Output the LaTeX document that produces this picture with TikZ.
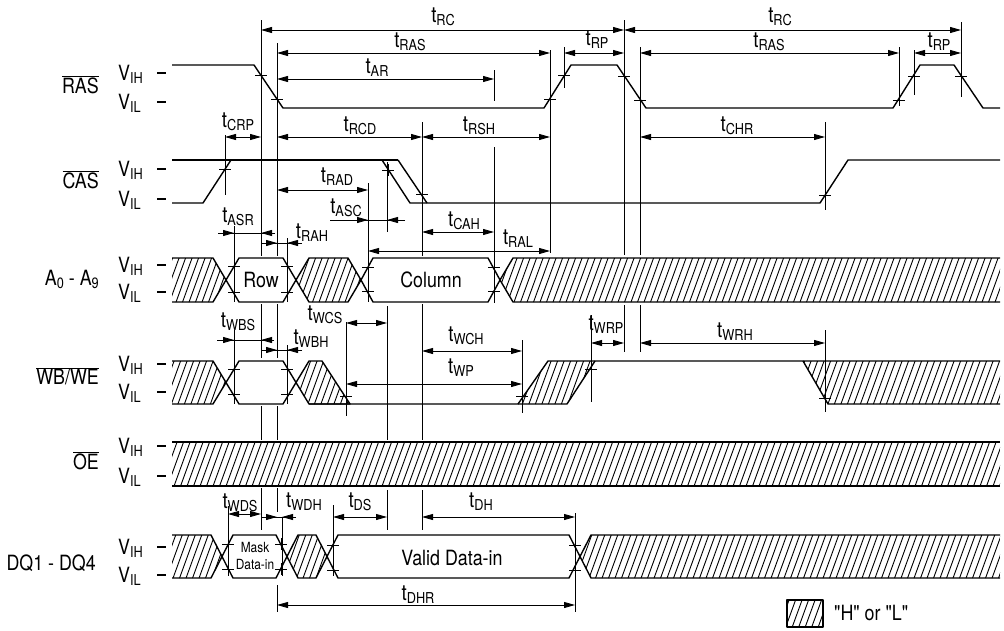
\documentclass[tikz,border=0pt]{standalone}
\usepackage{fontspec}
\setmainfont{TeX Gyre Heros}[FakeStretch=0.85]
\newfontfamily\qfont{TeX Gyre Heros}[FakeStretch=0.85]
\usetikzlibrary{arrows.meta}
\newcommand{\tlab}[1]{{\fontsize{22}{22}\selectfont t}\raisebox{-3pt}{\fontsize{15}{15}\selectfont #1}}
\newcommand{\vlab}[1]{{\fontsize{21}{21}\selectfont V}\raisebox{-3pt}{\fontsize{15}{15}\selectfont #1}}
\newcommand{\subd}[1]{\raisebox{-3pt}{\fontsize{15}{15}\selectfont #1}}
\newcommand{\mk}[2]{\draw[mkr] (#1,#2) ++(-6,0) -- ++(12,0) (#1,#2) ++(0,-6) -- ++(0,12);}
\begin{document}
\begin{tikzpicture}[x=1pt,y=-1pt,
  sig/.style={line width=1.4pt,line join=round},
  thinl/.style={line width=0.8pt},
  mkr/.style={line width=0.9pt},
  hl/.style={line width=0.9pt},
  dd/.style={thinl,{Triangle[length=11pt,width=6pt]}-{Triangle[length=11pt,width=6pt]}},
  tipr/.style={thinl,-{Triangle[length=11pt,width=6pt]}},
  lab/.style={inner sep=0pt},
  sname/.style={inner sep=0pt,anchor=east,font=\fontsize{21}{24}\selectfont},
  vl/.style={inner sep=0pt,anchor=west},
  btxt/.style={inner sep=0pt,font=\fontsize{21}{24}\selectfont}]
\useasboundingbox (0,0) rectangle (1004,630);

% ---------- hatching ----------
\begin{scope}
\clip (172,258) -- (213,258) -- (226,280) -- (213,302) -- (172,302) -- cycle
 (296,280) -- (309,258) -- (348,258) -- (361,280) -- (348,302) -- (309,302) -- cycle
 (500,280) -- (513,258) -- (1000,258) -- (1000,302) -- (513,302) -- cycle
 (172,361) -- (213,361) -- (226,382.5) -- (213,404) -- (172,404) -- cycle
 (296,382.5) -- (309,361) -- (322,361) -- (350,404) -- (309,404) -- cycle
 (518,404) -- (548,361) -- (595,361) -- (567,404) -- cycle
 (803,361) -- (1000,361) -- (1000,404) -- (828,404) -- cycle
 (172,442) rectangle (1000,486)
 (172,535) -- (211,535) -- (222,556.5) -- (211,578) -- (172,578) -- cycle
 (287,556.5) -- (298,535) -- (316,535) -- (327,556.5) -- (316,578) -- (298,578) -- cycle
 (580,556.5) -- (591,535) -- (1000,535) -- (1000,578) -- (591,578) -- cycle
 (787,600) rectangle (823,627);
\foreach \k in {0,...,175} \draw[hl] ({-90+6.5*\k},640) -- ++(233,-640);
\end{scope}

% ---------- signal names and levels ----------
\node[sname] (nras) at (99,85) {$\overline{\mbox{RAS}}$};
\node[sname] (ncas) at (99,180) {$\overline{\mbox{CAS}}$};
\node[sname] (nadr) at (99,279) {A\subd{0} - A\subd{9}};
\node[sname] (nwe) at (99,376) {$\overline{\mbox{WB/WE}}$};
\node[sname] (noe) at (99,461) {$\overline{\mbox{OE}}$};
\node[sname] (ndq) at (96,563) {DQ1 - DQ4};
\foreach \nm/\yh/\yl in {ras/73/102, cas/169/199, adr/265/292, we/364/392, oe/446/476, dq/547/575}{
  \node[vl] (\nm H) at (118,\yh+1) {\vlab{IH}};
  \node[vl] (\nm L) at (118,\yl+1) {\vlab{IL}};
  \draw[sig] (157,\yh) -- (166,\yh);
  \draw[sig] (157,\yl) -- (166,\yl);
}

% ---------- RAS ----------
\draw[sig] (172,65) -- (254,65) -- (283,108) -- (544,108) -- (571,65) -- (617,65) -- (646,108) -- (893,108) -- (920,65) -- (954,65) -- (983,108) -- (1000,108);
% ---------- CAS ----------
\draw[sig] (172,160) -- (398,160);
\draw[sig] (172,203) -- (203,203) -- (231,160);
\draw[sig] (382,160) -- (410,203) -- (820,203) -- (848,160) -- (1000,160);
\draw[sig] (398,160) -- (427,203);
% ---------- Address ----------
\draw[sig] (172,258) -- (213,258) -- (226,280) -- (213,302) -- (172,302);
\draw[sig] (226,280) -- (239,258) -- (283,258) -- (296,280) -- (283,302) -- (239,302) -- cycle;
\draw[sig] (296,280) -- (309,258) -- (348,258) -- (361,280) -- (348,302) -- (309,302) -- cycle;
\draw[sig] (361,280) -- (373,258) -- (488,258) -- (500,280) -- (488,302) -- (373,302) -- cycle;
\draw[sig] (1000,258) -- (513,258) -- (500,280) -- (513,302) -- (1000,302);
\node[btxt] (row) at (261,280) {Row};
\node[btxt] (col) at (431,280) {Column};
% ---------- WB/WE ----------
\draw[sig] (172,361) -- (213,361) -- (226,382.5) -- (213,404) -- (172,404);
\draw[sig] (226,382.5) -- (239,361) -- (283,361) -- (296,382.5) -- (283,404) -- (239,404) -- cycle;
\draw[sig] (296,382.5) -- (309,361) -- (322,361) -- (350,404) -- (309,404) -- cycle;
\draw[sig] (309,404) -- (518,404) -- (548,361) -- (1000,361);
\draw[sig] (518,404) -- (567,404) -- (595,361);
\draw[sig] (803,361) -- (828,404) -- (1000,404);
% ---------- OE ----------
\draw[sig] (172,442) -- (1000,442) (172,486) -- (1000,486);
% ---------- DQ ----------
\draw[sig] (172,535) -- (211,535) -- (222,556.5) -- (211,578) -- (172,578);
\draw[sig] (222,556.5) -- (233,535) -- (276,535) -- (287,556.5) -- (276,578) -- (233,578) -- cycle;
\draw[sig] (287,556.5) -- (298,535) -- (316,535) -- (327,556.5) -- (316,578) -- (298,578) -- cycle;
\draw[sig] (327,556.5) -- (338,535) -- (569,535) -- (580,556.5) -- (569,578) -- (338,578) -- cycle;
\draw[sig] (1000,535) -- (591,535) -- (580,556.5) -- (591,578) -- (1000,578);
\node[lab,font=\fontsize{14}{14}\selectfont] (mask) at (255,547) {Mask};
\node[lab,font=\fontsize{14}{14}\selectfont] (datain) at (255,564) {Data-in};
\node[btxt] (valid) at (452,558) {Valid Data-in};
% ---------- legend ----------
\draw[sig] (787,600) rectangle (823,627);
\node[btxt,anchor=west,font=\qfont\fontsize{21}{24}\selectfont] (leg) at (834,613) {"H" or "L"};

% ---------- reference lines ----------
\draw[thinl] (261,20)--(261,256) (261,304)--(261,358) (261,406)--(261,440) (261,488)--(261,530);
\draw[thinl] (277,43)--(277,256) (277,304)--(277,358) (277,406)--(277,440) (277,488)--(277,512) (277,585)--(277,612);
\draw[thinl] (225,135)--(225,195);
\draw[thinl] (234,226)--(234,302) (234,330)--(234,404);
\draw[thinl] (287,238)--(287,302) (287,345)--(287,404);
\draw[thinl] (368,183)--(368,302);
\draw[thinl] (387,162)--(387,232) (387,306)--(387,440) (387,490)--(387,530);
\draw[thinl] (422,122)--(422,256) (422,304)--(422,440) (422,490)--(422,530);
\draw[thinl] (494,70)--(494,101) (494,147)--(494,303);
\draw[thinl] (550,50)--(550,253);
\draw[thinl] (564,47)--(564,88);
\draw[thinl] (624,20)--(624,255) (624,305)--(624,352);
\draw[thinl] (640,47)--(640,255) (640,305)--(640,352);
\draw[thinl] (825,122)--(825,210) (825,330)--(825,412);
\draw[thinl] (899,47)--(899,105) (914,50)--(914,95) (961,22)--(961,97);
\draw[thinl] (346,322)--(346,416);
\draw[thinl] (522,340)--(522,413);
\draw[thinl] (591,315)--(591,402);
\draw[thinl] (228,506)--(228,576);
\draw[thinl] (282,517)--(282,576);
\draw[thinl] (333,505)--(333,576);
\draw[thinl] (575,513)--(575,612);

% ---------- markers ----------
\foreach \px/\py in {261/75,277/99,550/99,564/75,624/76,640/100,899/100,914/76,961/76,
  225/169,388/170,422/194,825/195,
  234/266,234/292,287/266,287/292,368/267,368/291,494/267,494/291,
  234/369,234/394,287/369,287/394,346/396,522/396,591/369,825/398,
  228/544,228/569,281/544,281/569,333/545,333/570,575/545,575/570}{\mk{\px}{\py}}

% ---------- dimensions (outward) ----------
\draw[dd] (261,30) -- (624,30);
\draw[dd] (624,30) -- (961,30);
\draw[dd] (277,53) -- (550,53);
\draw[dd] (564,53) -- (624,53);
\draw[dd] (640,53) -- (899,53);
\draw[dd] (914,53) -- (961,53);
\draw[dd] (277,79) -- (494,79);
\draw[dd] (225,137) -- (261,137);
\draw[dd] (277,137) -- (422,137);
\draw[dd] (422,137) -- (550,137);
\draw[dd] (640,137) -- (825,137);
\draw[dd] (277,190) -- (368,190);
\draw[dd] (422,232) -- (494,232);
\draw[dd] (368,251) -- (550,251);
\draw[dd] (346,323) -- (387,323);
\draw[dd] (422,351) -- (522,351);
\draw[dd] (346,384) -- (522,384);
\draw[dd] (591,343) -- (624,343);
\draw[dd] (640,343) -- (825,343);
\draw[dd] (228,514) -- (261,514);
\draw[dd] (333,517) -- (387,517);
\draw[dd] (422,517) -- (575,517);
\draw[dd] (277,605) -- (575,605);
% ---------- dimensions (inward) ----------
\draw[thinl] (218,233) -- (275,233); \draw[tipr] (218,233) -- (234,233); \draw[tipr] (275,233) -- (261,233);
\draw[thinl] (262,243) -- (302,243); \draw[tipr] (262,243) -- (277,243); \draw[tipr] (302,243) -- (287,243);
\draw[thinl] (330,220) -- (405,220); \draw[tipr] (330,220) -- (368,220); \draw[tipr] (405,220) -- (387,220);
\draw[thinl] (217,340) -- (274,340); \draw[tipr] (217,340) -- (234,340); \draw[tipr] (274,340) -- (261,340);
\draw[thinl] (262,350) -- (302,350); \draw[tipr] (262,350) -- (277,350); \draw[tipr] (302,350) -- (287,350);
\draw[thinl] (262,517) -- (296,517); \draw[tipr] (262,517) -- (277,517); \draw[tipr] (296,517) -- (282,517);

% ---------- timing labels ----------
\node[lab] (lrc1) at (443,17) {\tlab{RC}};
\node[lab] (lrc2) at (780,17) {\tlab{RC}};
\node[lab] (lras1) at (410,42) {\tlab{RAS}};
\node[lab] (lras2) at (769,42) {\tlab{RAS}};
\node[lab] (lrp1) at (597,40) {\tlab{RP}};
\node[lab] (lrp2) at (939,42) {\tlab{RP}};
\node[lab] (lar) at (377,68) {\tlab{AR}};
\node[lab] (lcrp) at (238,122) {\tlab{CRP}};
\node[lab] (lrcd) at (360,126) {\tlab{RCD}};
\node[lab] (lrsh) at (479,126) {\tlab{RSH}};
\node[lab] (lchr) at (737,126) {\tlab{CHR}};
\node[lab] (lrad) at (337,177) {\tlab{RAD}};
\node[lab] (lasc) at (346,208) {\tlab{ASC}};
\node[lab] (lasr) at (238,217) {\tlab{ASR}};
\node[lab] (lrah) at (312,233) {\tlab{RAH}};
\node[lab] (lcah) at (464,221) {\tlab{CAH}};
\node[lab] (lral) at (518,239) {\tlab{RAL}};
\node[lab] (lwbs) at (238,322) {\tlab{WBS}};
\node[lab] (lwbh) at (311,339) {\tlab{WBH}};
\node[lab] (lwcs) at (325,315) {\tlab{WCS}};
\node[lab] (lwch) at (466,336) {\tlab{WCH}};
\node[lab] (lwp) at (461,368) {\tlab{WP}};
\node[lab] (lwrp) at (606,325) {\tlab{WRP}};
\node[lab] (lwrh) at (735,332) {\tlab{WRH}};
\node[lab] (lwds) at (240,503) {\tlab{WDS}};
\node[lab] (lwdh) at (304,502) {\tlab{WDH}};
\node[lab] (lds) at (360,502) {\tlab{DS}};
\node[lab] (ldh) at (481,502) {\tlab{DH}};
\node[lab] (ldhr) at (418,595) {\tlab{DHR}};
\end{tikzpicture}
\end{document}
